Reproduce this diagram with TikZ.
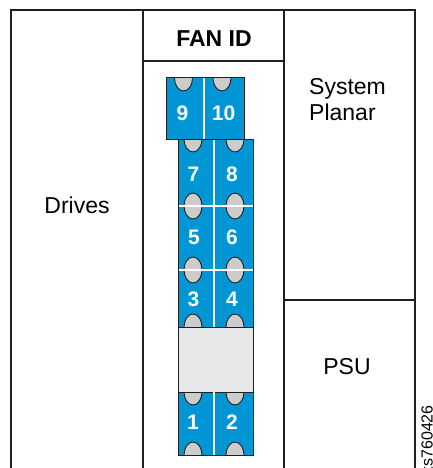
\documentclass[tikz,border=0pt]{standalone}
\usepackage{fontspec}
\setmainfont{Liberation Sans}
\usepackage{tikz}
\definecolor{fanblue}{RGB}{0, 150, 214}
\definecolor{ovalgray}{RGB}{204, 204, 204}
\definecolor{blockgray}{RGB}{230, 231, 232}
\definecolor{edgegray}{RGB}{35, 31, 32}

\begin{document}
\begin{tikzpicture}[x=1pt, y=-1pt,
  frameline/.style={edgegray, line width=2pt},
  fanbody/.style={draw=edgegray, line width=1pt},
  fanoval/.style={fill=ovalgray, draw=edgegray, line width=0.9pt},
  fangap/.style={white, line width=2pt},
  fannum/.style={text=white, inner sep=0pt, anchor=base, font=\fontsize{21}{21}\selectfont\bfseries},
  zonelabel/.style={inner sep=0pt, anchor=base, font=\fontsize{23}{27}\selectfont}]

  \useasboundingbox (0,0) rectangle (433,468);

  % Chassis frame, open at the bottom
  \draw[frameline] (11,468) -- (11,10) -- (415,10) -- (415,468);
  \draw[frameline] (143,10) -- (143,468);
  \draw[frameline] (284,10) -- (284,468);
  \draw[frameline] (143,61) -- (284,61);
  \draw[frameline] (284,300) -- (415,300);

  % Fan bodies
  \fill[fanblue] (166,78) rectangle (244,139);
  \fill[fanblue] (178,139) rectangle (253,455);

  % Latches, cut off at the edges of each fan
  \begin{scope}
    \clip (166,78) rectangle (244,139);
    \filldraw[fanoval] (183.5,78) ellipse (9 and 13);
    \filldraw[fanoval] (222,78) ellipse (9 and 13);
  \end{scope}
  \begin{scope}
    \clip (178,139) rectangle (253,455);
    \foreach \y in {139,206,270,327,392,455} {
      \filldraw[fanoval] (193,\y) ellipse (9 and 13);
      \filldraw[fanoval] (235,\y) ellipse (9 and 13);
    }
  \end{scope}

  % Blank slot between fans 3/4 and 1/2
  \filldraw[fill=blockgray, fanbody] (178,327) rectangle (253,392);

  % White seams between the fans
  \draw[fangap] (204,78) -- (204,139);
  \draw[fangap] (214,139) -- (214,327);
  \draw[fangap] (214,392) -- (214,455);
  \draw[fangap] (178,206) -- (253,206);
  \draw[fangap] (178,270) -- (253,270);

  % Fan outlines
  \draw[fanbody] (166,78) rectangle (244,139);
  \draw[fanbody] (178,139) rectangle (253,455);

  % Fan numbers
  \node[fannum] (fan9)  at (182.5,121) {9};
  \node[fannum] (fan10) at (223.5,121) {10};
  \node[fannum] (fan7)  at (193.5,181) {7};
  \node[fannum] (fan8)  at (232,181) {8};
  \node[fannum] (fan5)  at (194,244) {5};
  \node[fannum] (fan6)  at (232,244) {6};
  \node[fannum] (fan3)  at (193.5,306) {3};
  \node[fannum] (fan4)  at (232,306) {4};
  \node[fannum] (fan1)  at (193,429) {1};
  \node[fannum] (fan2)  at (232,429) {2};

  % Zone labels
  \node[zonelabel] (drives) at (77,213) {Drives};
  \node[zonelabel, font=\fontsize{23}{27}\selectfont\bfseries] (fanid) at (214,47) {FAN ID};
  \node[zonelabel, anchor=base west] (sysline) at (309,95) {System};
  \node[zonelabel, anchor=base west] (planarline) at (309,121) {Planar};
  \node[zonelabel] (psu) at (347,374) {PSU};

  % Figure code along the right edge
  \node[inner sep=0pt, rotate=90, anchor=base east, font=\fontsize{16}{16}\selectfont] (figcode) at (432.5,405) {ts760426};

\end{tikzpicture}
\end{document}
